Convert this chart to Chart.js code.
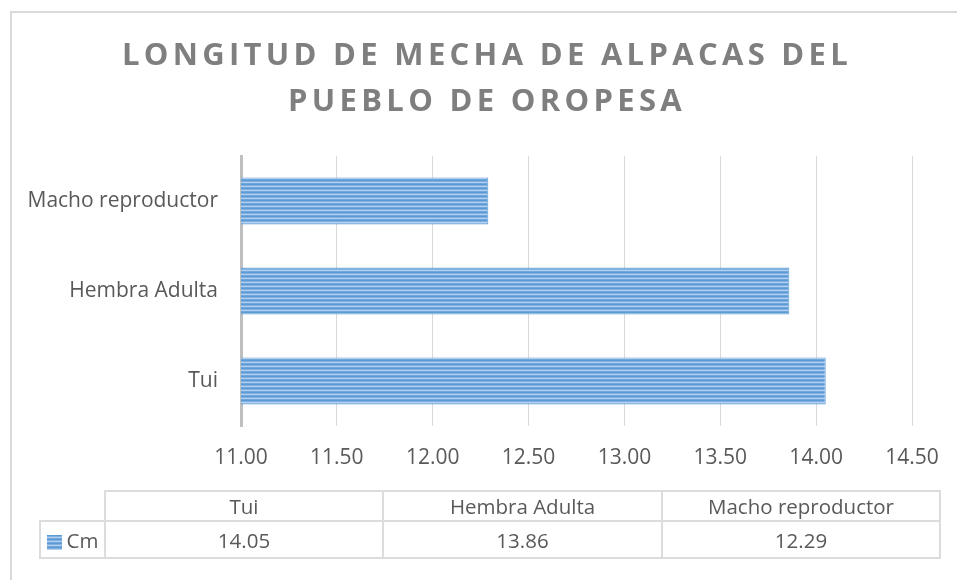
<!DOCTYPE html>
<html>
<head>
<meta charset="utf-8">
<script src="https://cdn.jsdelivr.net/npm/chart.js@4"></script>
<style>
  body { margin: 0; background: #fff; font-family: "Open Sans", sans-serif; }
  #wrap { position: relative; width: 957px; height: 580px; overflow: hidden; }
  #frame { position: absolute; left: 10px; top: 11px; width: 1000px; height: 600px;
           border-left: 2px solid #d9d9d9; border-top: 2px solid #d9d9d9; }
  canvas { position: absolute; left: 0; top: 0; }
  #dataTable { position: absolute; left: 39px; top: 490px;
               border-collapse: collapse; color: #595959; font-size: 20.5px; }
  #dataTable td { border: 2px solid #dcdcdc; text-align: center; padding: 0; white-space: nowrap; }
  #dataTable tr.head td { height: 28px; }
  #dataTable tr.vals td { height: 35px; }
  #dataTable td.blank { border-top: none; border-left: none; }
  .swatch { display: inline-block; width: 15px; height: 15px; vertical-align: -2px; margin-right: 5px;
            background: repeating-linear-gradient(#5b9bd5 0 1px, #7fb0e1 1px 2px, #b4d0ee 2px 3px, #6fa6dc 3px 4px); }
</style>
</head>
<body>
<div id="wrap">
  <div id="frame"></div>
  <canvas id="chart" width="957" height="580"></canvas>
  <table id="dataTable"></table>
</div>
<script>
const titleLines = ["LONGITUD DE MECHA DE ALPACAS DEL", "PUEBLO DE OROPESA"];
const categories = ["Tui", "Hembra Adulta", "Macho reproductor"];
const seriesName = "Cm";
const cmValues = [14.05, 13.86, 12.29];

// striped fill like the original bars
const stripe = document.createElement("canvas");
stripe.width = 1;
stripe.height = 4;
const sctx = stripe.getContext("2d");
["#5b9bd5", "#7fb0e1", "#b4d0ee", "#6fa6dc"].forEach((c, i) => {
  sctx.fillStyle = c;
  sctx.fillRect(0, i, 1, 1);
});

const ctx = document.getElementById("chart").getContext("2d");
const barFill = ctx.createPattern(stripe, "repeat");

const titlePlugin = {
  id: "spacedTitle",
  afterDraw(chart) {
    const c = chart.ctx;
    c.save();
    c.font = 'bold 31px "Open Sans"';
    c.fillStyle = "#7f7f7f";
    c.textAlign = "center";
    c.textBaseline = "middle";
    c.letterSpacing = "4.3px";
    c.fillText(titleLines[0], 487, 56);
    c.fillText(titleLines[1], 487, 102);
    c.restore();
  },
};

new Chart(ctx, {
  type: "bar",
  data: {
    labels: categories,
    datasets: [
      {
        label: seriesName,
        data: cmValues,
        backgroundColor: barFill,
        borderColor: "#5b9bd5",
        borderWidth: 1,
        categoryPercentage: 1,
        barPercentage: 0.52,
      },
    ],
  },
  options: {
    indexAxis: "y",
    responsive: false,
    animation: false,
    layout: { padding: { top: 156, left: 1, right: 45, bottom: 104 } },
    plugins: {
      legend: { display: false },
      tooltip: { enabled: false },
    },
    scales: {
      x: {
        min: 11,
        max: 14.5,
        ticks: {
          stepSize: 0.5,
          padding: 19,
          color: "#595959",
          font: { family: "Open Sans", size: 21 },
          maxRotation: 0,
          callback: (v) => Number(v).toFixed(2),
        },
        grid: { color: "#d9d9d9", lineWidth: 1, drawTicks: false },
        border: { display: false },
        afterFit(scale) {
          scale.height = 50;
          scale.paddingLeft = 0;
          scale.paddingRight = 0;
        },
      },
      y: {
        reverse: true,
        ticks: {
          padding: 23,
          color: "#595959",
          font: { family: "Open Sans", size: 21 },
        },
        grid: { drawOnChartArea: false, drawTicks: false },
        border: { display: true, color: "#bfbfbf", width: 3 },
        afterFit(scale) {
          scale.width = 240;
        },
      },
    },
  },
  plugins: [titlePlugin],
});

// data table under the chart
const table = document.getElementById("dataTable");
const colW = [64, 276, 277, 276];
let head = '<tr class="head"><td class="blank" style="width:' + colW[0] + 'px"></td>';
categories.forEach((c, i) => {
  head += '<td style="width:' + colW[i + 1] + 'px">' + c + "</td>";
});
head += "</tr>";
let vals = '<tr class="vals"><td><span class="swatch"></span>' + seriesName + "</td>";
cmValues.forEach((v) => {
  vals += "<td>" + v.toFixed(2) + "</td>";
});
vals += "</tr>";
table.innerHTML = head + vals;
</script>
</body>
</html>
